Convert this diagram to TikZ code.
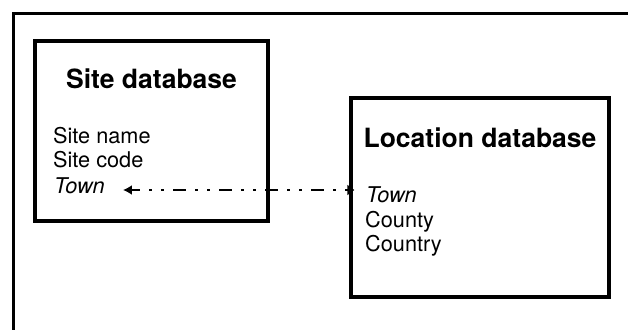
\documentclass[tikz,border=0pt]{standalone}
\usepackage{fontspec}
\setmainfont{TeX Gyre Heros}
\usetikzlibrary{arrows.meta,calc}

\tikzset{
  frame/.style={line width=3pt},
  dbbox/.style={draw, line width=3.4pt, rectangle, inner sep=0pt},
  heading/.style={inner sep=0pt, anchor=base, font=\fontsize{26.5}{30}\selectfont\bfseries},
  field/.style={inner sep=0pt, anchor=base west, font=\fontsize{21.7}{24.5}\selectfont},
  keyfield/.style={field, font=\fontsize{21.7}{24.5}\selectfont\itshape},
  link/.style={line width=2.8pt, dash pattern=on 13pt off 9pt on 3pt off 9pt on 3pt off 9pt,
    dash phase=4pt, {Latex[length=9pt,width=10pt]}-{Triangle[length=7pt,width=10pt]}}
}

\begin{document}
\begin{tikzpicture}[x=1pt,y=1pt]
  \useasboundingbox (0,0) rectangle (628,-329);
  \clip (0,0) rectangle (628,-329);

  % outer frame, open to the right and bottom
  \draw[frame] (13,-345) -- (13,-14) -- (645,-14);

  % the two databases
  \node[dbbox, minimum width=233pt, minimum height=180pt] (site) at (151.5,-131) {};
  \node[dbbox, minimum width=258pt, minimum height=199pt] (loc) at (480,-197.5) {};

  % site database contents
  \node[heading] (sitehead) at (151.5,-88) {Site database};
  \node[field] (sitename) at (53,-143) {Site name};
  \node[field] (sitecode) at (53,-167) {Site code};
  \node[keyfield] (sitetown) at (54,-193) {Town};

  % location database contents
  \node[heading] (lochead) at (480,-147) {Location database};
  \node[keyfield] (loctown) at (366,-202) {Town};
  \node[field] (loccounty) at (365,-227) {County};
  \node[field] (loccountry) at (365,-251) {Country};

  % key link between the two Town fields
  \coordinate (linkL) at ([shift={(18pt,3pt)}]sitetown.base east);
  \draw[link, shorten >=-5pt] (linkL) -- (loc.west |- linkL);
\end{tikzpicture}
\end{document}
